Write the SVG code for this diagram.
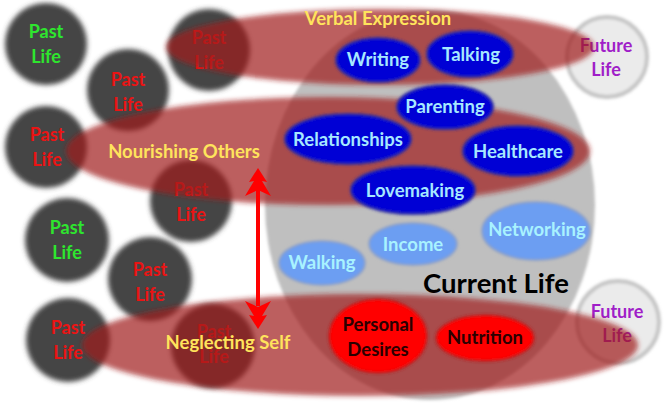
<svg xmlns="http://www.w3.org/2000/svg" width="669" height="407" viewBox="0 0 669 407">
<defs>
<filter id="soft" x="-20%" y="-20%" width="140%" height="140%"><feGaussianBlur stdDeviation="2.5"/></filter>
<filter id="soft2" x="-20%" y="-20%" width="140%" height="140%"><feGaussianBlur stdDeviation="1.6"/></filter>
<path id="ahead" d="M0,0 L9,14 L4,13 L13,28 L0,22 L-13,28 L-4,13 L-9,14 Z" fill="#ff0000"/>
</defs>
<style>
text{font-family:Lato,"Open Sans","Liberation Sans",sans-serif;font-weight:bold;text-anchor:middle}
.past{fill:#444444}
.pt{font-size:18px;fill:#ea1414}
.pg{font-size:18px;fill:#2ee62e}
.fut{fill:#ebebeb;stroke:#c4c4c4;stroke-width:4}
.ft{font-size:18px;fill:#a01ec8}
.grp{fill:#a02020;fill-opacity:0.7}
.gl{font-size:18.5px;fill:#ffe45c}
.blue{fill:#0505d5;stroke:#2a2aa0;stroke-width:2}
.bt{font-size:18.5px;fill:#a6e8ff}
.lb{fill:#6c9ef2;stroke:#8a9cc0;stroke-width:1.5}
.lt{font-size:18.5px;fill:#a8f2ff}
.rd{fill:#ff0505;stroke:#b02020;stroke-width:1.5}
.rt{font-size:18.5px;fill:#2a0000}
</style>

<g id="current-life">
<ellipse cx="430" cy="205" rx="165" ry="195" fill="#bfbfbf" filter="url(#soft2)"/>
<text x="496" y="293" style="font-size:27.5px;fill:#000">Current Life</text>
</g>

<g id="past1"><circle class="past" cx="46" cy="44" r="41" filter="url(#soft)"/><text class="pg"><tspan x="46" y="38">Past</tspan><tspan x="46" y="63">Life</tspan></text></g>
<g id="past2"><circle class="past" cx="209" cy="50" r="41" filter="url(#soft)"/><text class="pt"><tspan x="209" y="44">Past</tspan><tspan x="209" y="69">Life</tspan></text></g>
<g id="past3"><circle class="past" cx="128" cy="90" r="41" filter="url(#soft)"/><text class="pt"><tspan x="128" y="86">Past</tspan><tspan x="128" y="111">Life</tspan></text></g>
<g id="past4"><circle class="past" cx="46" cy="147" r="41" filter="url(#soft)"/><text class="pt"><tspan x="47" y="141">Past</tspan><tspan x="47" y="166">Life</tspan></text></g>
<g id="past5"><circle class="past" cx="191" cy="201" r="41" filter="url(#soft)"/><text class="pt"><tspan x="191" y="196">Past</tspan><tspan x="191" y="221">Life</tspan></text></g>
<g id="past6"><circle class="past" cx="67" cy="240" r="42" filter="url(#soft)"/><text class="pg"><tspan x="67" y="234">Past</tspan><tspan x="67" y="259">Life</tspan></text></g>
<g id="past7"><circle class="past" cx="150" cy="279" r="42" filter="url(#soft)"/><text class="pt"><tspan x="150" y="276">Past</tspan><tspan x="150" y="301">Life</tspan></text></g>
<g id="past8"><circle class="past" cx="68" cy="340" r="42" filter="url(#soft)"/><text class="pt"><tspan x="68" y="334">Past</tspan><tspan x="68" y="359">Life</tspan></text></g>
<g id="past9"><circle class="past" cx="213" cy="346" r="42" filter="url(#soft)"/><text class="pt"><tspan x="214" y="338">Past</tspan><tspan x="214" y="363">Life</tspan></text></g>

<g id="future1"><circle class="fut" cx="607" cy="57" r="40" filter="url(#soft2)"/><text class="ft"><tspan x="606" y="52">Future</tspan><tspan x="606" y="76">Life</tspan></text></g>
<g id="future2"><circle class="fut" cx="618" cy="322" r="41" filter="url(#soft2)"/><text class="ft"><tspan x="617" y="318">Future</tspan><tspan x="617" y="342">Life</tspan></text></g>

<g id="verbal-expression">
<ellipse class="grp" cx="380" cy="47" rx="214" ry="38" filter="url(#soft)"/>
<text class="gl" x="378" y="25">Verbal Expression</text>
</g>
<g id="nourishing-others">
<ellipse class="grp" cx="328" cy="151" rx="262" ry="54" filter="url(#soft)"/>
<text class="gl" x="184" y="158">Nourishing Others</text>
</g>
<g id="neglecting-self">
<ellipse class="grp" cx="360" cy="345" rx="278" ry="51" filter="url(#soft)"/>
<text class="gl" x="228" y="349">Neglecting Self</text>
</g>

<g id="writing"><ellipse class="blue" cx="378" cy="60" rx="42" ry="22" filter="url(#soft2)"/><text class="bt" x="378" y="66">Writing</text></g>
<g id="talking"><ellipse class="blue" cx="470" cy="54" rx="43" ry="23" filter="url(#soft2)"/><text class="bt" x="471" y="61">Talking</text></g>
<g id="parenting"><ellipse class="blue" cx="445" cy="107" rx="48" ry="22" filter="url(#soft2)"/><text class="bt" x="445" y="113">Parenting</text></g>
<g id="relationships"><ellipse class="blue" cx="348" cy="139" rx="63" ry="25" filter="url(#soft2)"/><text class="bt" x="348" y="146">Relationships</text></g>
<g id="healthcare"><ellipse class="blue" cx="518" cy="151" rx="55" ry="25" filter="url(#soft2)"/><text class="bt" x="518" y="158">Healthcare</text></g>
<g id="lovemaking"><ellipse class="blue" cx="413" cy="190" rx="62" ry="24" filter="url(#soft2)"/><text class="bt" x="415" y="197">Lovemaking</text></g>

<g id="walking"><ellipse class="lb" cx="322" cy="263" rx="43" ry="22" filter="url(#soft2)"/><text class="lt" x="322" y="269">Walking</text></g>
<g id="income"><ellipse class="lb" cx="413" cy="244" rx="44" ry="21" filter="url(#soft2)"/><text class="lt" x="413" y="251">Income</text></g>
<g id="networking"><ellipse class="lb" cx="536" cy="231" rx="54" ry="29" filter="url(#soft2)"/><text class="lt" x="537" y="236">Networking</text></g>

<g id="personal-desires"><ellipse class="rd" cx="378" cy="336" rx="49" ry="37" filter="url(#soft2)"/><text class="rt"><tspan x="378" y="331">Personal</tspan><tspan x="378" y="356">Desires</tspan></text></g>
<g id="nutrition"><ellipse class="rd" cx="485" cy="338" rx="49" ry="23" filter="url(#soft2)"/><text class="rt" x="485" y="344">Nutrition</text></g>

<g id="connectors">
<line x1="258" y1="190" x2="258" y2="306" stroke="#ff0000" stroke-width="4"/>
<use href="#ahead" transform="translate(258,168)"/>
<use href="#ahead" transform="translate(258,329) rotate(180)"/>
</g>
</svg>
